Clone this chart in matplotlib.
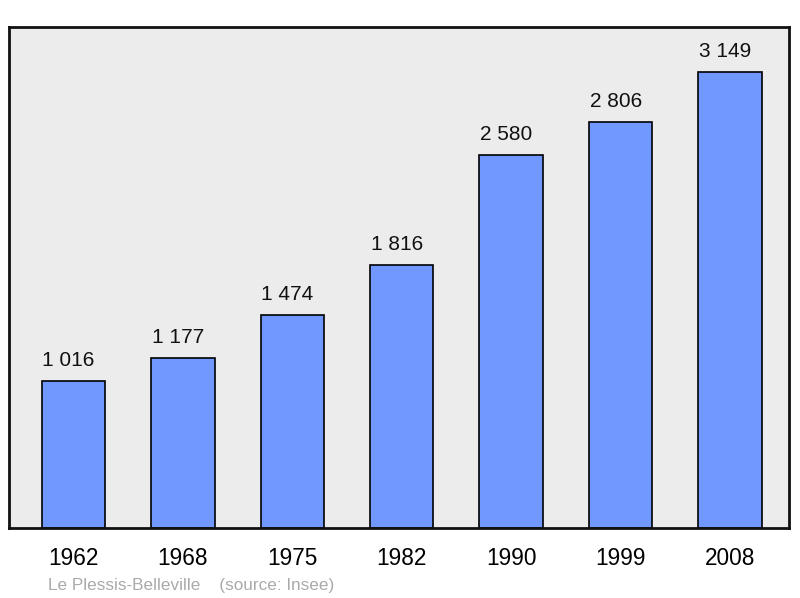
import matplotlib
matplotlib.use("Agg")
import matplotlib.pyplot as plt

years = ["1962", "1968", "1975", "1982", "1990", "1999", "2008"]
population = [1016, 1177, 1474, 1816, 2580, 2806, 3149]
value_labels = ["1 016", "1 177", "1 474", "1 816", "2 580", "2 806", "3 149"]
footer = "Le Plessis-Belleville    (source: Insee)"

plt.rcParams['font.family'] = ['Liberation Sans', 'DejaVu Sans']

fig = plt.figure(figsize=(8, 5.98), dpi=100)
ax = fig.add_axes([9/800, 1 - 528/598, 780/800, (528-27)/598])
ax.set_facecolor('#ececec')

x = list(range(len(years)))
ax.bar(x, population, width=0.58, color='#7098ff', edgecolor='black', linewidth=1.2, zorder=2)
for xi, v, lab in zip(x, population, value_labels):
    ax.annotate(lab, (xi, v), xytext=(-3.5, 10.8), textcoords='offset points',
                ha='center', va='baseline', fontsize=15, color='#111111')

ax.set_xlim(-0.59, 6.54)
ax.set_ylim(0, 3462)
ax.set_xticks(x)
ax.set_xticklabels(years, fontsize=16.3)
ax.tick_params(axis='x', length=0, pad=13.5)
ax.set_yticks([])
for s in ax.spines.values():
    s.set_linewidth(2)
    s.set_color('#111111')

fig.text(48/800, 1 - 590/598, footer, fontsize=12.3, color='#aaaaaa', ha='left', va='baseline')

fig.savefig('out.png', dpi=100)
